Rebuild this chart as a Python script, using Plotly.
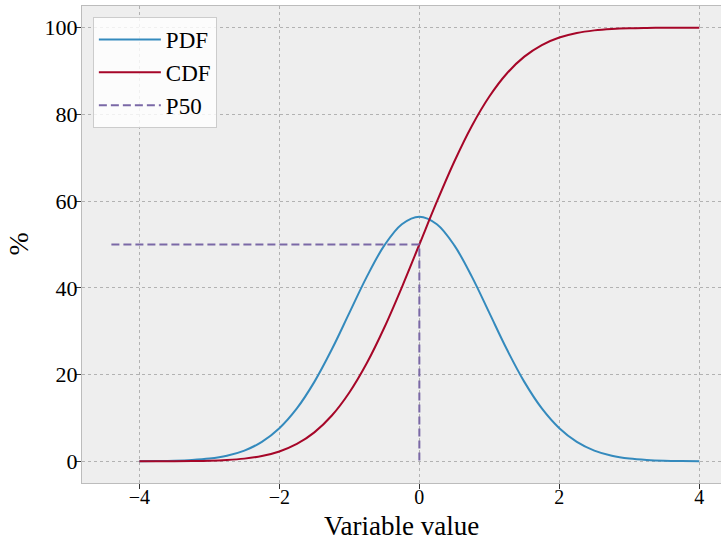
import plotly.graph_objects as go

# x grid of the curves
x_vals = [-4.0, -3.75, -3.5, -3.25, -3.0, -2.75, -2.5, -2.25, -2.0, -1.75, -1.5, -1.25,
          -1.0, -0.75, -0.5, -0.25, 0.0, 0.25, 0.5, 0.75, 1.0, 1.25, 1.5, 1.75,
          2.0, 2.25, 2.5, 2.75, 3.0, 3.25, 3.5, 3.75, 4.0]

pdf_vals = [0.02, 0.05, 0.12, 0.29, 0.63, 1.29, 2.48, 4.49, 7.64, 12.20, 18.32, 25.83,
            34.22, 42.59, 49.79, 54.68, 56.42, 54.68, 49.79, 42.59, 34.22, 25.83, 18.32, 12.20,
            7.64, 4.49, 2.48, 1.29, 0.63, 0.29, 0.12, 0.05, 0.02]

cdf_vals = [0.0, 0.01, 0.02, 0.06, 0.13, 0.30, 0.62, 1.22, 2.28, 4.01, 6.68, 10.56,
            15.87, 22.66, 30.85, 40.13, 50.0, 59.87, 69.15, 77.34, 84.13, 89.44, 93.32, 95.99,
            97.72, 98.78, 99.38, 99.70, 99.87, 99.94, 99.98, 99.99, 100.0]

p50_x = [-4.4, 0.0, 0.0]
p50_y = [50.0, 50.0, 0.0]

x_ticks = [-4, -2, 0, 2, 4]
x_ticktext = ["\u22124", "\u22122", "0", "2", "4"]
y_ticks = [0, 20, 40, 60, 80, 100]

FONT = "Liberation Serif, DejaVu Serif, serif"

fig = go.Figure()
fig.add_trace(go.Scatter(x=x_vals, y=pdf_vals, mode="lines", name="PDF",
                         line=dict(color="#348ABD", width=2, shape="spline")))
fig.add_trace(go.Scatter(x=x_vals, y=cdf_vals, mode="lines", name="CDF",
                         line=dict(color="#A60628", width=2, shape="spline")))
fig.add_trace(go.Scatter(x=p50_x, y=p50_y, mode="lines", name="P50",
                         line=dict(color="#7A68A6", width=2, dash="8px,4px")))

fig.update_layout(
    width=721, height=540,
    margin=dict(l=82, r=0, t=6, b=57),
    paper_bgcolor="white",
    plot_bgcolor="#eeeeee",
    font=dict(family=FONT, size=22, color="black"),
    legend=dict(x=0.017, y=0.977, xanchor="left", yanchor="top",
                bgcolor="rgba(255,255,255,0.8)", bordercolor="#cccccc", borderwidth=1,
                font=dict(size=23, family=FONT), itemwidth=62),
    showlegend=True,
    annotations=[
        dict(text="Variable value", xref="paper", yref="paper", x=0.5, y=-0.091,
             xanchor="center", yanchor="middle", showarrow=False,
             font=dict(size=27, family=FONT)),
        dict(text="%", xref="paper", yref="paper", x=-0.1, y=0.5, textangle=-90,
             xanchor="center", yanchor="middle", showarrow=False,
             font=dict(size=28, family=FONT)),
    ],
)
fig.update_xaxes(
    range=[-4.82, 4.31], tickvals=x_ticks, ticktext=x_ticktext, automargin=False,
    showgrid=True, gridcolor="#b2b2b2", griddash="dot", gridwidth=1,
    zeroline=False, showline=True, linecolor="#bcbcbc", linewidth=1, mirror=True,
    ticks="outside", ticklen=5, tickcolor="#333333",
    tickfont=dict(size=20, family=FONT), ticklabelstandoff=-9,
)
fig.update_yaxes(
    range=[-5, 105], tickvals=y_ticks, automargin=False,
    showgrid=True, gridcolor="#b2b2b2", griddash="dot", gridwidth=1,
    zeroline=False, showline=True, linecolor="#bcbcbc", linewidth=1, mirror=True,
    ticks="outside", ticklen=5, tickcolor="#333333",
    tickfont=dict(size=22, family=FONT), ticklabelstandoff=-6,
)

fig.write_html("out.html")
